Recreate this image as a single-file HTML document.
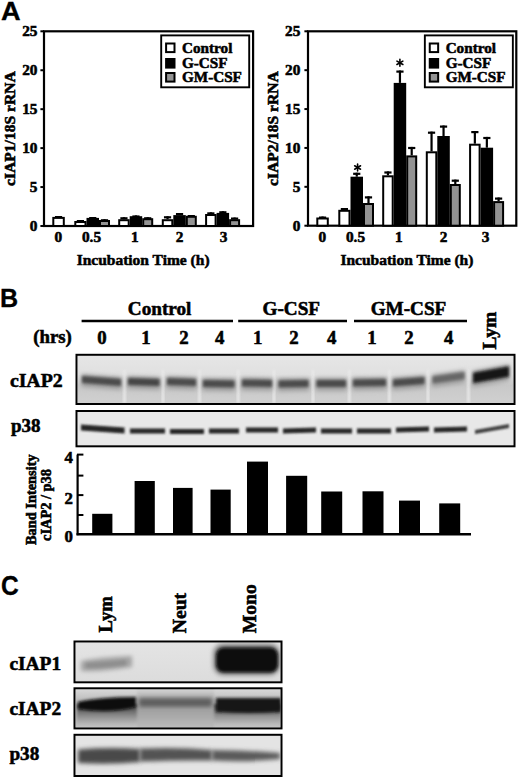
<!DOCTYPE html>
<html><head><meta charset="utf-8"><title>Figure</title>
<style>html,body{margin:0;padding:0;background:#fff;}svg{display:block;}</style></head>
<body><svg width="520" height="778" viewBox="0 0 520 778">
<defs>
<clipPath id="cB1"><rect x="77.5" y="355.8" width="436" height="47.2"/></clipPath>
<clipPath id="cB2"><rect x="77.5" y="412" width="436" height="33.3"/></clipPath>
<clipPath id="cC1"><rect x="75.5" y="642.5" width="205" height="38.8"/></clipPath>
<clipPath id="cC2"><rect x="75.5" y="689.3" width="205" height="38.1"/></clipPath>
<clipPath id="cC3"><rect x="75.5" y="735.8" width="205" height="39.2"/></clipPath>
<filter id="bl1" x="-20%" y="-100%" width="140%" height="300%"><feGaussianBlur stdDeviation="0.8"/></filter>
<filter id="bl15" x="-20%" y="-100%" width="140%" height="300%"><feGaussianBlur stdDeviation="1.1"/></filter>
<filter id="bl2" x="-20%" y="-100%" width="140%" height="300%"><feGaussianBlur stdDeviation="1.6"/></filter>
<filter id="bl3" x="-20%" y="-100%" width="140%" height="300%"><feGaussianBlur stdDeviation="2.2"/></filter>
<linearGradient id="gB1" x1="0" y1="0" x2="0" y2="1">
<stop offset="0" stop-color="#e6e6e6"/><stop offset="0.4" stop-color="#e0e0e0"/><stop offset="0.62" stop-color="#c8c8c8"/><stop offset="1" stop-color="#d0d0d0"/></linearGradient>
<linearGradient id="gC2" x1="0" y1="0" x2="0" y2="1">
<stop offset="0" stop-color="#d8d8d8"/><stop offset="0.3" stop-color="#bcbcbc"/><stop offset="0.7" stop-color="#acacac"/><stop offset="1" stop-color="#c4c4c4"/></linearGradient>
<linearGradient id="gHalo" x1="0" y1="0" x2="0" y2="1">
<stop offset="0" stop-color="#3a3a3a"/><stop offset="0.45" stop-color="#7a7a7a"/><stop offset="1" stop-color="#b0b0b0" stop-opacity="0.3"/></linearGradient>
<linearGradient id="gC1" x1="0" y1="0" x2="0" y2="1">
<stop offset="0" stop-color="#e4e4e4"/><stop offset="1" stop-color="#dcdcdc"/></linearGradient>
<linearGradient id="gC2n" x1="0" y1="0" x2="0" y2="1">
<stop offset="0" stop-color="#d2d2d2"/><stop offset="0.3" stop-color="#a8a8a8"/><stop offset="0.6" stop-color="#a4a4a4"/><stop offset="1" stop-color="#bababa"/></linearGradient>
</defs>
<rect width="520" height="778" fill="#fff"/>
<!-- chart1 -->
<rect x="44" y="31.3" width="209.1" height="194.7" fill="none" stroke="#000" stroke-width="2.2"/>
<line x1="40.4" y1="226.00" x2="44" y2="226.00" stroke="#000" stroke-width="2"/>
<text x="37.5" y="231.10" text-anchor="end" font-family="Liberation Serif" font-weight="bold" stroke="#000" stroke-width="0.55" font-size="15.3">0</text>
<line x1="40.4" y1="187.06" x2="44" y2="187.06" stroke="#000" stroke-width="2"/>
<text x="37.5" y="192.16" text-anchor="end" font-family="Liberation Serif" font-weight="bold" stroke="#000" stroke-width="0.55" font-size="15.3">5</text>
<line x1="40.4" y1="148.12" x2="44" y2="148.12" stroke="#000" stroke-width="2"/>
<text x="37.5" y="153.22" text-anchor="end" font-family="Liberation Serif" font-weight="bold" stroke="#000" stroke-width="0.55" font-size="15.3">10</text>
<line x1="40.4" y1="109.18" x2="44" y2="109.18" stroke="#000" stroke-width="2"/>
<text x="37.5" y="114.28" text-anchor="end" font-family="Liberation Serif" font-weight="bold" stroke="#000" stroke-width="0.55" font-size="15.3">15</text>
<line x1="40.4" y1="70.24" x2="44" y2="70.24" stroke="#000" stroke-width="2"/>
<text x="37.5" y="75.34" text-anchor="end" font-family="Liberation Serif" font-weight="bold" stroke="#000" stroke-width="0.55" font-size="15.3">20</text>
<line x1="40.4" y1="31.30" x2="44" y2="31.30" stroke="#000" stroke-width="2"/>
<text x="37.5" y="36.40" text-anchor="end" font-family="Liberation Serif" font-weight="bold" stroke="#000" stroke-width="0.55" font-size="15.3">25</text>
<line x1="58.55" y1="216.00" x2="58.55" y2="216.90" stroke="#000" stroke-width="2.2"/>
<line x1="54.95" y1="217.10" x2="62.15" y2="217.10" stroke="#000" stroke-width="2.2"/>
<rect x="53.30" y="217.90" width="10.50" height="8.10" fill="#fff" stroke="#000" stroke-width="2"/>
<line x1="80.40" y1="220.00" x2="80.40" y2="221.00" stroke="#000" stroke-width="2.2"/>
<line x1="76.80" y1="221.10" x2="84.00" y2="221.10" stroke="#000" stroke-width="2.2"/>
<rect x="75.30" y="222.00" width="10.20" height="4.00" fill="#fff" stroke="#000" stroke-width="2"/>
<line x1="92.75" y1="217.00" x2="92.75" y2="217.90" stroke="#000" stroke-width="2.2"/>
<line x1="89.15" y1="218.10" x2="96.35" y2="218.10" stroke="#000" stroke-width="2.2"/>
<rect x="87.50" y="218.90" width="10.50" height="7.10" fill="#000" stroke="#000" stroke-width="2"/>
<line x1="104.50" y1="219.20" x2="104.50" y2="220.00" stroke="#000" stroke-width="2.2"/>
<line x1="100.90" y1="220.30" x2="108.10" y2="220.30" stroke="#000" stroke-width="2.2"/>
<rect x="100.00" y="221.00" width="9.00" height="5.00" fill="#939393" stroke="#000" stroke-width="2"/>
<line x1="123.95" y1="217.20" x2="123.95" y2="219.20" stroke="#000" stroke-width="2.2"/>
<line x1="120.35" y1="218.30" x2="127.55" y2="218.30" stroke="#000" stroke-width="2.2"/>
<rect x="119.20" y="220.20" width="9.50" height="5.80" fill="#fff" stroke="#000" stroke-width="2"/>
<line x1="135.95" y1="215.40" x2="135.95" y2="216.20" stroke="#000" stroke-width="2.2"/>
<line x1="132.35" y1="216.50" x2="139.55" y2="216.50" stroke="#000" stroke-width="2.2"/>
<rect x="130.70" y="217.20" width="10.50" height="8.80" fill="#000" stroke="#000" stroke-width="2"/>
<line x1="147.70" y1="217.20" x2="147.70" y2="218.20" stroke="#000" stroke-width="2.2"/>
<line x1="144.10" y1="218.30" x2="151.30" y2="218.30" stroke="#000" stroke-width="2.2"/>
<rect x="143.20" y="219.20" width="9.00" height="6.80" fill="#939393" stroke="#000" stroke-width="2"/>
<line x1="167.55" y1="216.20" x2="167.55" y2="219.20" stroke="#000" stroke-width="2.2"/>
<line x1="163.95" y1="217.30" x2="171.15" y2="217.30" stroke="#000" stroke-width="2.2"/>
<rect x="162.80" y="220.20" width="9.50" height="5.80" fill="#fff" stroke="#000" stroke-width="2"/>
<line x1="179.55" y1="213.00" x2="179.55" y2="215.10" stroke="#000" stroke-width="2.2"/>
<line x1="175.95" y1="214.10" x2="183.15" y2="214.10" stroke="#000" stroke-width="2.2"/>
<rect x="174.30" y="216.10" width="10.50" height="9.90" fill="#000" stroke="#000" stroke-width="2"/>
<line x1="191.30" y1="215.00" x2="191.30" y2="215.80" stroke="#000" stroke-width="2.2"/>
<line x1="187.70" y1="216.10" x2="194.90" y2="216.10" stroke="#000" stroke-width="2.2"/>
<rect x="186.80" y="216.80" width="9.00" height="9.20" fill="#939393" stroke="#000" stroke-width="2"/>
<line x1="210.85" y1="212.30" x2="210.85" y2="214.00" stroke="#000" stroke-width="2.2"/>
<line x1="207.25" y1="213.40" x2="214.45" y2="213.40" stroke="#000" stroke-width="2.2"/>
<rect x="206.10" y="215.00" width="9.50" height="11.00" fill="#fff" stroke="#000" stroke-width="2"/>
<line x1="222.85" y1="211.20" x2="222.85" y2="212.90" stroke="#000" stroke-width="2.2"/>
<line x1="219.25" y1="212.30" x2="226.45" y2="212.30" stroke="#000" stroke-width="2.2"/>
<rect x="217.60" y="213.90" width="10.50" height="12.10" fill="#000" stroke="#000" stroke-width="2"/>
<line x1="234.60" y1="217.50" x2="234.60" y2="219.20" stroke="#000" stroke-width="2.2"/>
<line x1="231.00" y1="218.60" x2="238.20" y2="218.60" stroke="#000" stroke-width="2.2"/>
<rect x="230.10" y="220.20" width="9.00" height="5.80" fill="#939393" stroke="#000" stroke-width="2"/>
<text x="58.30" y="242" text-anchor="middle" font-family="Liberation Serif" font-weight="bold" stroke="#000" stroke-width="0.55" font-size="15.3">0</text>
<text x="91.50" y="242" text-anchor="middle" font-family="Liberation Serif" font-weight="bold" stroke="#000" stroke-width="0.55" font-size="15.3">0.5</text>
<text x="134.90" y="242" text-anchor="middle" font-family="Liberation Serif" font-weight="bold" stroke="#000" stroke-width="0.55" font-size="15.3">1</text>
<text x="179.50" y="242" text-anchor="middle" font-family="Liberation Serif" font-weight="bold" stroke="#000" stroke-width="0.55" font-size="15.3">2</text>
<text x="223.50" y="242" text-anchor="middle" font-family="Liberation Serif" font-weight="bold" stroke="#000" stroke-width="0.55" font-size="15.3">3</text>
<text x="143.1" y="264.5" text-anchor="middle" font-family="Liberation Serif" font-weight="bold" stroke="#000" stroke-width="0.55" font-size="15.5">Incubation Time (h)</text>
<text transform="translate(15.2,128.6) rotate(-90)" text-anchor="middle" font-family="Liberation Serif" font-weight="bold" stroke="#000" stroke-width="0.55" font-size="15.6">cIAP1/18S rRNA</text>
<rect x="161.2" y="35.4" width="88" height="51.9" fill="#fff" stroke="#000" stroke-width="1.9"/>
<rect x="166.10" y="43.50" width="8.4" height="8.6" fill="#fff" stroke="#000" stroke-width="2"/>
<text x="182.00" y="52.80" font-family="Liberation Serif" font-weight="bold" stroke="#000" stroke-width="0.55" font-size="15.2">Control</text>
<rect x="166.10" y="59.00" width="8.4" height="8.6" fill="#000" stroke="#000" stroke-width="2"/>
<text x="182.00" y="68.30" font-family="Liberation Serif" font-weight="bold" stroke="#000" stroke-width="0.55" font-size="15.2">G-CSF</text>
<rect x="166.10" y="73.00" width="8.4" height="8.6" fill="#939393" stroke="#000" stroke-width="2"/>
<text x="182.00" y="82.30" font-family="Liberation Serif" font-weight="bold" stroke="#000" stroke-width="0.55" font-size="15.2">GM-CSF</text>
<rect x="308" y="31.3" width="208.29999999999995" height="194.39999999999998" fill="none" stroke="#000" stroke-width="2.2"/>
<line x1="304.4" y1="225.70" x2="308" y2="225.70" stroke="#000" stroke-width="2"/>
<text x="300.3" y="230.80" text-anchor="end" font-family="Liberation Serif" font-weight="bold" stroke="#000" stroke-width="0.55" font-size="15.3">0</text>
<line x1="304.4" y1="186.82" x2="308" y2="186.82" stroke="#000" stroke-width="2"/>
<text x="300.3" y="191.92" text-anchor="end" font-family="Liberation Serif" font-weight="bold" stroke="#000" stroke-width="0.55" font-size="15.3">5</text>
<line x1="304.4" y1="147.94" x2="308" y2="147.94" stroke="#000" stroke-width="2"/>
<text x="300.3" y="153.04" text-anchor="end" font-family="Liberation Serif" font-weight="bold" stroke="#000" stroke-width="0.55" font-size="15.3">10</text>
<line x1="304.4" y1="109.06" x2="308" y2="109.06" stroke="#000" stroke-width="2"/>
<text x="300.3" y="114.16" text-anchor="end" font-family="Liberation Serif" font-weight="bold" stroke="#000" stroke-width="0.55" font-size="15.3">15</text>
<line x1="304.4" y1="70.18" x2="308" y2="70.18" stroke="#000" stroke-width="2"/>
<text x="300.3" y="75.28" text-anchor="end" font-family="Liberation Serif" font-weight="bold" stroke="#000" stroke-width="0.55" font-size="15.3">20</text>
<line x1="304.4" y1="31.30" x2="308" y2="31.30" stroke="#000" stroke-width="2"/>
<text x="300.3" y="36.40" text-anchor="end" font-family="Liberation Serif" font-weight="bold" stroke="#000" stroke-width="0.55" font-size="15.3">25</text>
<line x1="322.55" y1="216.50" x2="322.55" y2="217.50" stroke="#000" stroke-width="2.2"/>
<line x1="318.95" y1="217.60" x2="326.15" y2="217.60" stroke="#000" stroke-width="2.2"/>
<rect x="317.30" y="218.50" width="10.50" height="7.20" fill="#fff" stroke="#000" stroke-width="2"/>
<line x1="344.40" y1="208.00" x2="344.40" y2="209.80" stroke="#000" stroke-width="2.2"/>
<line x1="340.80" y1="209.10" x2="348.00" y2="209.10" stroke="#000" stroke-width="2.2"/>
<rect x="339.30" y="210.80" width="10.20" height="14.90" fill="#fff" stroke="#000" stroke-width="2"/>
<line x1="356.75" y1="172.70" x2="356.75" y2="176.70" stroke="#000" stroke-width="2.2"/>
<line x1="353.15" y1="173.80" x2="360.35" y2="173.80" stroke="#000" stroke-width="2.2"/>
<rect x="351.50" y="177.70" width="10.50" height="48.00" fill="#000" stroke="#000" stroke-width="2"/>
<line x1="368.50" y1="196.30" x2="368.50" y2="203.00" stroke="#000" stroke-width="2.2"/>
<line x1="364.90" y1="197.40" x2="372.10" y2="197.40" stroke="#000" stroke-width="2.2"/>
<rect x="364.00" y="204.00" width="9.00" height="21.70" fill="#939393" stroke="#000" stroke-width="2"/>
<line x1="387.95" y1="171.40" x2="387.95" y2="175.30" stroke="#000" stroke-width="2.2"/>
<line x1="384.35" y1="172.50" x2="391.55" y2="172.50" stroke="#000" stroke-width="2.2"/>
<rect x="383.20" y="176.30" width="9.50" height="49.40" fill="#fff" stroke="#000" stroke-width="2"/>
<line x1="399.95" y1="70.50" x2="399.95" y2="82.90" stroke="#000" stroke-width="2.2"/>
<line x1="396.35" y1="71.60" x2="403.55" y2="71.60" stroke="#000" stroke-width="2.2"/>
<rect x="394.70" y="83.90" width="10.50" height="141.80" fill="#000" stroke="#000" stroke-width="2"/>
<line x1="411.70" y1="146.90" x2="411.70" y2="155.40" stroke="#000" stroke-width="2.2"/>
<line x1="408.10" y1="148.00" x2="415.30" y2="148.00" stroke="#000" stroke-width="2.2"/>
<rect x="407.20" y="156.40" width="9.00" height="69.30" fill="#939393" stroke="#000" stroke-width="2"/>
<line x1="431.55" y1="131.60" x2="431.55" y2="151.30" stroke="#000" stroke-width="2.2"/>
<line x1="427.95" y1="132.70" x2="435.15" y2="132.70" stroke="#000" stroke-width="2.2"/>
<rect x="426.80" y="152.30" width="9.50" height="73.40" fill="#fff" stroke="#000" stroke-width="2"/>
<line x1="443.55" y1="125.50" x2="443.55" y2="136.00" stroke="#000" stroke-width="2.2"/>
<line x1="439.95" y1="126.60" x2="447.15" y2="126.60" stroke="#000" stroke-width="2.2"/>
<rect x="438.30" y="137.00" width="10.50" height="88.70" fill="#000" stroke="#000" stroke-width="2"/>
<line x1="455.30" y1="179.60" x2="455.30" y2="184.00" stroke="#000" stroke-width="2.2"/>
<line x1="451.70" y1="180.70" x2="458.90" y2="180.70" stroke="#000" stroke-width="2.2"/>
<rect x="450.80" y="185.00" width="9.00" height="40.70" fill="#939393" stroke="#000" stroke-width="2"/>
<line x1="474.85" y1="131.00" x2="474.85" y2="143.70" stroke="#000" stroke-width="2.2"/>
<line x1="471.25" y1="132.10" x2="478.45" y2="132.10" stroke="#000" stroke-width="2.2"/>
<rect x="470.10" y="144.70" width="9.50" height="81.00" fill="#fff" stroke="#000" stroke-width="2"/>
<line x1="486.85" y1="136.90" x2="486.85" y2="147.70" stroke="#000" stroke-width="2.2"/>
<line x1="483.25" y1="138.00" x2="490.45" y2="138.00" stroke="#000" stroke-width="2.2"/>
<rect x="481.60" y="148.70" width="10.50" height="77.00" fill="#000" stroke="#000" stroke-width="2"/>
<line x1="498.60" y1="197.50" x2="498.60" y2="201.10" stroke="#000" stroke-width="2.2"/>
<line x1="495.00" y1="198.60" x2="502.20" y2="198.60" stroke="#000" stroke-width="2.2"/>
<rect x="494.10" y="202.10" width="9.00" height="23.60" fill="#939393" stroke="#000" stroke-width="2"/>
<g stroke="#000" stroke-width="1.6" stroke-linecap="round"><line x1="357.6" y1="164.1" x2="357.6" y2="170.9"/><line x1="354.65000000000003" y1="165.8" x2="360.55" y2="169.2"/><line x1="354.65000000000003" y1="169.2" x2="360.55" y2="165.8"/></g>
<g stroke="#000" stroke-width="1.6" stroke-linecap="round"><line x1="399.9" y1="59.4" x2="399.9" y2="66.2"/><line x1="396.95" y1="61.099999999999994" x2="402.84999999999997" y2="64.5"/><line x1="396.95" y1="64.5" x2="402.84999999999997" y2="61.099999999999994"/></g>
<text x="322.30" y="242" text-anchor="middle" font-family="Liberation Serif" font-weight="bold" stroke="#000" stroke-width="0.55" font-size="15.3">0</text>
<text x="355.50" y="242" text-anchor="middle" font-family="Liberation Serif" font-weight="bold" stroke="#000" stroke-width="0.55" font-size="15.3">0.5</text>
<text x="398.90" y="242" text-anchor="middle" font-family="Liberation Serif" font-weight="bold" stroke="#000" stroke-width="0.55" font-size="15.3">1</text>
<text x="443.50" y="242" text-anchor="middle" font-family="Liberation Serif" font-weight="bold" stroke="#000" stroke-width="0.55" font-size="15.3">2</text>
<text x="485.70" y="242" text-anchor="middle" font-family="Liberation Serif" font-weight="bold" stroke="#000" stroke-width="0.55" font-size="15.3">3</text>
<text x="406.9" y="264.5" text-anchor="middle" font-family="Liberation Serif" font-weight="bold" stroke="#000" stroke-width="0.55" font-size="15.5">Incubation Time (h)</text>
<text transform="translate(278.2,128.6) rotate(-90)" text-anchor="middle" font-family="Liberation Serif" font-weight="bold" stroke="#000" stroke-width="0.55" font-size="15.6">cIAP2/18S rRNA</text>
<rect x="424.85" y="35.4" width="88" height="51.9" fill="#fff" stroke="#000" stroke-width="1.9"/>
<rect x="429.75" y="43.50" width="8.4" height="8.6" fill="#fff" stroke="#000" stroke-width="2"/>
<text x="445.65" y="52.80" font-family="Liberation Serif" font-weight="bold" stroke="#000" stroke-width="0.55" font-size="15.2">Control</text>
<rect x="429.75" y="59.00" width="8.4" height="8.6" fill="#000" stroke="#000" stroke-width="2"/>
<text x="445.65" y="68.30" font-family="Liberation Serif" font-weight="bold" stroke="#000" stroke-width="0.55" font-size="15.2">G-CSF</text>
<rect x="429.75" y="73.00" width="8.4" height="8.6" fill="#939393" stroke="#000" stroke-width="2"/>
<text x="445.65" y="82.30" font-family="Liberation Serif" font-weight="bold" stroke="#000" stroke-width="0.55" font-size="15.2">GM-CSF</text>
<text transform="translate(0.9,20.2) scale(1.07,1)" font-family="Liberation Sans" font-weight="bold" stroke="#000" stroke-width="0.3" font-size="25.4">A</text>
<text transform="translate(0.0,307.4) scale(0.98,1)" font-family="Liberation Sans" font-weight="bold" stroke="#000" stroke-width="0.3" font-size="25.6">B</text>
<text transform="translate(1.1,595.3) scale(0.91,1)" font-family="Liberation Sans" font-weight="bold" stroke="#000" stroke-width="0.3" font-size="27">C</text>
<text x="159.6" y="314.5" text-anchor="middle" font-family="Liberation Serif" font-weight="bold" stroke="#000" stroke-width="0.55" font-size="19.2">Control</text>
<text x="291.3" y="314.5" text-anchor="middle" font-family="Liberation Serif" font-weight="bold" stroke="#000" stroke-width="0.55" font-size="19.2">G-CSF</text>
<text x="408.5" y="314.5" text-anchor="middle" font-family="Liberation Serif" font-weight="bold" stroke="#000" stroke-width="0.55" font-size="19.2">GM-CSF</text>
<line x1="81.6" y1="321" x2="233" y2="321" stroke="#000" stroke-width="2.6"/>
<line x1="238.2" y1="321" x2="347" y2="321" stroke="#000" stroke-width="2.6"/>
<line x1="354" y1="321" x2="467" y2="321" stroke="#000" stroke-width="2.6"/>
<text x="33.2" y="342.5" font-family="Liberation Serif" font-weight="bold" stroke="#000" stroke-width="0.55" font-size="18.8">(hrs)</text>
<text x="102" y="344" text-anchor="middle" font-family="Liberation Serif" font-weight="bold" stroke="#000" stroke-width="0.55" font-size="18.8">0</text>
<text x="146" y="344" text-anchor="middle" font-family="Liberation Serif" font-weight="bold" stroke="#000" stroke-width="0.55" font-size="18.8">1</text>
<text x="184" y="344" text-anchor="middle" font-family="Liberation Serif" font-weight="bold" stroke="#000" stroke-width="0.55" font-size="18.8">2</text>
<text x="219.8" y="344" text-anchor="middle" font-family="Liberation Serif" font-weight="bold" stroke="#000" stroke-width="0.55" font-size="18.8">4</text>
<text x="257.75" y="344" text-anchor="middle" font-family="Liberation Serif" font-weight="bold" stroke="#000" stroke-width="0.55" font-size="18.8">1</text>
<text x="294" y="344" text-anchor="middle" font-family="Liberation Serif" font-weight="bold" stroke="#000" stroke-width="0.55" font-size="18.8">2</text>
<text x="331.8" y="344" text-anchor="middle" font-family="Liberation Serif" font-weight="bold" stroke="#000" stroke-width="0.55" font-size="18.8">4</text>
<text x="372" y="344" text-anchor="middle" font-family="Liberation Serif" font-weight="bold" stroke="#000" stroke-width="0.55" font-size="18.8">1</text>
<text x="408.9" y="344" text-anchor="middle" font-family="Liberation Serif" font-weight="bold" stroke="#000" stroke-width="0.55" font-size="18.8">2</text>
<text x="448.6" y="344" text-anchor="middle" font-family="Liberation Serif" font-weight="bold" stroke="#000" stroke-width="0.55" font-size="18.8">4</text>
<text transform="translate(495.6,330.6) rotate(-90)" text-anchor="middle" font-family="Liberation Serif" font-weight="bold" stroke="#000" stroke-width="0.55" font-size="19.5">Lym</text>
<text x="9.9" y="386.9" font-family="Liberation Serif" font-weight="bold" stroke="#000" stroke-width="0.55" font-size="19.8">cIAP2</text>
<text x="10.9" y="431.5" font-family="Liberation Serif" font-weight="bold" stroke="#000" stroke-width="0.55" font-size="19">p38</text>
<g clip-path="url(#cB1)">
<rect x="77.5" y="355.8" width="436" height="47.2" fill="url(#gB1)"/>
<rect x="123.2" y="370" width="2.6" height="33" fill="#e9e9e9" filter="url(#bl1)"/>
<rect x="161.7" y="370" width="2.6" height="33" fill="#e9e9e9" filter="url(#bl1)"/>
<rect x="198.2" y="370" width="2.6" height="33" fill="#e9e9e9" filter="url(#bl1)"/>
<rect x="236.89999999999998" y="370" width="2.6" height="33" fill="#e9e9e9" filter="url(#bl1)"/>
<rect x="272.7" y="370" width="2.6" height="33" fill="#e9e9e9" filter="url(#bl1)"/>
<rect x="311.7" y="370" width="2.6" height="33" fill="#e9e9e9" filter="url(#bl1)"/>
<rect x="348.0" y="370" width="2.6" height="33" fill="#e9e9e9" filter="url(#bl1)"/>
<rect x="388.0" y="370" width="2.6" height="33" fill="#e9e9e9" filter="url(#bl1)"/>
<rect x="426.7" y="370" width="2.6" height="33" fill="#e9e9e9" filter="url(#bl1)"/>
<rect x="467.2" y="370" width="2.6" height="33" fill="#e9e9e9" filter="url(#bl1)"/>
<path d="M81.5,374.0 L121.5,377.0 L121.5,390.0 L81.5,387.0 Z" fill="#a0a0a0" filter="url(#bl3)"/>
<path d="M82.0,376.0 L121.0,379.0 L121.0,386.0 L82.0,383.0 Z" fill="#4c4c4c" filter="url(#bl2)"/>
<path d="M127.5,376.0 L160,377.0 L160,390.0 L127.5,389.0 Z" fill="#a0a0a0" filter="url(#bl3)"/>
<path d="M128.0,378.0 L159.5,379.0 L159.5,386.0 L128.0,385.0 Z" fill="#444" filter="url(#bl2)"/>
<path d="M166.5,376.0 L196.5,377.0 L196.5,390.0 L166.5,389.0 Z" fill="#a0a0a0" filter="url(#bl3)"/>
<path d="M167.0,378.0 L196.0,379.0 L196.0,386.0 L167.0,385.0 Z" fill="#4c4c4c" filter="url(#bl2)"/>
<path d="M202.5,378.0 L235,378.5 L235,391.5 L202.5,391.0 Z" fill="#a0a0a0" filter="url(#bl3)"/>
<path d="M203.0,380.0 L234.5,380.5 L234.5,387.5 L203.0,387.0 Z" fill="#4c4c4c" filter="url(#bl2)"/>
<path d="M241.5,377.5 L272.5,378.0 L272.5,391.0 L241.5,390.5 Z" fill="#a0a0a0" filter="url(#bl3)"/>
<path d="M242.0,379.5 L272.0,380.0 L272.0,387.0 L242.0,386.5 Z" fill="#4c4c4c" filter="url(#bl2)"/>
<path d="M278,378.5 L309,378.0 L309,391.0 L278,391.5 Z" fill="#a0a0a0" filter="url(#bl3)"/>
<path d="M278.5,380.5 L308.5,380.0 L308.5,387.0 L278.5,387.5 Z" fill="#4c4c4c" filter="url(#bl2)"/>
<path d="M316,378.0 L346.5,378.0 L346.5,391.0 L316,391.0 Z" fill="#a0a0a0" filter="url(#bl3)"/>
<path d="M316.5,380.0 L346.0,380.0 L346.0,387.0 L316.5,387.0 Z" fill="#4c4c4c" filter="url(#bl2)"/>
<path d="M352.5,377.5 L386.5,377.0 L386.5,390.0 L352.5,390.5 Z" fill="#a0a0a0" filter="url(#bl3)"/>
<path d="M353.0,379.5 L386.0,379.0 L386.0,386.0 L353.0,386.5 Z" fill="#4c4c4c" filter="url(#bl2)"/>
<path d="M392.5,377.5 L425,375.0 L425,388.0 L392.5,390.5 Z" fill="#a0a0a0" filter="url(#bl3)"/>
<path d="M393.0,379.5 L424.5,377.0 L424.5,384.0 L393.0,386.5 Z" fill="#4c4c4c" filter="url(#bl2)"/>
<path d="M432,374.5 L465,370.0 L465,383.0 L432,387.5 Z" fill="#a0a0a0" filter="url(#bl3)"/>
<path d="M432.5,376.5 L464.5,372.0 L464.5,379.0 L432.5,383.5 Z" fill="#666" filter="url(#bl2)"/>
<path d="M472.5,370.75 L509.5,364.25 L509.5,380.75 L472.5,387.25 Z" fill="#a0a0a0" filter="url(#bl3)"/>
<path d="M473.0,372.75 L509.0,366.25 L509.0,376.75 L473.0,383.25 Z" fill="#141414" filter="url(#bl2)"/>
</g>
<rect x="76.5" y="354.8" width="438" height="49.2" fill="none" stroke="#000" stroke-width="2"/>
<g clip-path="url(#cB2)">
<rect x="77.5" y="412" width="436" height="33.3" fill="#e8e8e8"/>
<path d="M81,424.5 L124.5,427.5 L124.5,433.5 L81,430.5 Z" fill="#262626" filter="url(#bl15)"/>
<path d="M130,428.5 L165,428.5 L165,433.5 L130,433.5 Z" fill="#262626" filter="url(#bl15)"/>
<path d="M170,429.0 L204,429.0 L204,434.0 L170,434.0 Z" fill="#262626" filter="url(#bl15)"/>
<path d="M209,428.5 L239,428.5 L239,433.5 L209,433.5 Z" fill="#262626" filter="url(#bl15)"/>
<path d="M246,427.5 L278,427.5 L278,432.5 L246,432.5 Z" fill="#262626" filter="url(#bl15)"/>
<path d="M283,428.5 L316,427.5 L316,432.5 L283,433.5 Z" fill="#262626" filter="url(#bl15)"/>
<path d="M321,428.5 L352,428.5 L352,433.5 L321,433.5 Z" fill="#262626" filter="url(#bl15)"/>
<path d="M357,428.5 L391,428.5 L391,433.5 L357,433.5 Z" fill="#262626" filter="url(#bl15)"/>
<path d="M396,427.5 L429,426.5 L429,431.5 L396,432.5 Z" fill="#262626" filter="url(#bl15)"/>
<path d="M434,427.5 L467,426.5 L467,431.5 L434,432.5 Z" fill="#262626" filter="url(#bl15)"/>
<path d="M475,429.9 L509,423.9 L509,428.1 L475,434.1 Z" fill="#404040" filter="url(#bl15)"/>
</g>
<rect x="76.5" y="411" width="438" height="35.3" fill="none" stroke="#000" stroke-width="2"/>
<line x1="77.6" y1="454.6" x2="77.6" y2="535.2" stroke="#000" stroke-width="2.2"/>
<line x1="76.5" y1="534.2" x2="471" y2="534.2" stroke="#000" stroke-width="2.4"/>
<line x1="77" y1="454.6" x2="83.4" y2="454.6" stroke="#000" stroke-width="2"/>
<line x1="77" y1="475.6" x2="83.4" y2="475.6" stroke="#000" stroke-width="2"/>
<line x1="77" y1="495.1" x2="83.4" y2="495.1" stroke="#000" stroke-width="2"/>
<line x1="77" y1="515" x2="83.4" y2="515" stroke="#000" stroke-width="2"/>
<text x="72.8" y="462.9" text-anchor="end" font-family="Liberation Serif" font-weight="bold" stroke="#000" stroke-width="0.55" font-size="16.8">4</text>
<text x="72.8" y="504" text-anchor="end" font-family="Liberation Serif" font-weight="bold" stroke="#000" stroke-width="0.55" font-size="16.8">2</text>
<text x="72.8" y="541.8" text-anchor="end" font-family="Liberation Serif" font-weight="bold" stroke="#000" stroke-width="0.55" font-size="16.8">0</text>
<rect x="92.2" y="513.8" width="20.20" height="20.20" fill="#000"/>
<rect x="134.6" y="481" width="20.20" height="53.00" fill="#000"/>
<rect x="173" y="487.9" width="19.60" height="46.10" fill="#000"/>
<rect x="210.5" y="489.6" width="20.20" height="44.40" fill="#000"/>
<rect x="247" y="461.6" width="21.00" height="72.40" fill="#000"/>
<rect x="286.1" y="475.8" width="21.10" height="58.20" fill="#000"/>
<rect x="321.2" y="491.5" width="21.00" height="42.50" fill="#000"/>
<rect x="362.5" y="491.3" width="21.00" height="42.70" fill="#000"/>
<rect x="399" y="500.6" width="21.00" height="33.40" fill="#000"/>
<rect x="439.2" y="503.4" width="21.00" height="30.60" fill="#000"/>
<text transform="translate(36.3,499.7) rotate(-90)" text-anchor="middle" font-family="Liberation Serif" font-weight="bold" stroke="#000" stroke-width="0.55" font-size="14.4">Band Intensity</text>
<text transform="translate(51.3,505) rotate(-90)" text-anchor="middle" font-family="Liberation Serif" font-weight="bold" stroke="#000" stroke-width="0.55" font-size="14.4">cIAP2 / p38</text>
<text transform="translate(111.6,614.3) rotate(-90)" text-anchor="middle" font-family="Liberation Serif" font-weight="bold" stroke="#000" stroke-width="0.55" font-size="18.6">Lym</text>
<text transform="translate(186,613) rotate(-90)" text-anchor="middle" font-family="Liberation Serif" font-weight="bold" stroke="#000" stroke-width="0.55" font-size="19.6">Neut</text>
<text transform="translate(256,608.8) rotate(-90)" text-anchor="middle" font-family="Liberation Serif" font-weight="bold" stroke="#000" stroke-width="0.55" font-size="19.6">Mono</text>
<text x="9.4" y="670.3" font-family="Liberation Serif" font-weight="bold" stroke="#000" stroke-width="0.55" font-size="19.4">cIAP1</text>
<text x="9.4" y="715.4" font-family="Liberation Serif" font-weight="bold" stroke="#000" stroke-width="0.55" font-size="19.4">cIAP2</text>
<text x="9.4" y="759.9" font-family="Liberation Serif" font-weight="bold" stroke="#000" stroke-width="0.55" font-size="19.2">p38</text>
<g clip-path="url(#cC1)">
<rect x="75.5" y="642.5" width="205" height="38.8" fill="url(#gC1)"/>
<path d="M81,661 Q100,657 132,656 L132,667 Q105,672 81,671 Z" fill="#a2a2a2" filter="url(#bl3)"/>
<path d="M86,663 Q105,662 126,660 L126,665 Q105,668 86,668 Z" fill="#8e8e8e" filter="url(#bl2)"/>
<rect x="213" y="643.5" width="67" height="32" rx="10" fill="#8a8a8a" filter="url(#bl3)"/>
<rect x="216" y="647.5" width="62" height="25" rx="8" fill="#080808" filter="url(#bl2)"/>
</g>
<rect x="74.5" y="641.5" width="207" height="40.8" fill="none" stroke="#000" stroke-width="2"/>
<g clip-path="url(#cC2)">
<rect x="75.5" y="689.3" width="205" height="38.1" fill="url(#gC2)"/>
<rect x="137" y="689.3" width="77" height="38.1" fill="url(#gC2n)" filter="url(#bl1)"/>
<rect x="77" y="704" width="60" height="21" fill="url(#gHalo)" filter="url(#bl2)"/>
<path d="M78,702 Q100,697 136,697 L136,707 Q110,714 78,709 Z" fill="#0c0c0c" filter="url(#bl2)"/>
<path d="M139,698 L212,698 L212,707 L139,707 Z" fill="#5e5e5e" filter="url(#bl3)"/>
<rect x="214" y="704" width="67" height="20" fill="url(#gHalo)" filter="url(#bl2)"/>
<path d="M216,698 Q250,698 281,698 L281,712 Q250,714 216,712 Z" fill="#161616" filter="url(#bl2)"/>
</g>
<rect x="74.5" y="688.3" width="207" height="40.1" fill="none" stroke="#000" stroke-width="2"/>
<g clip-path="url(#cC3)">
<rect x="75.5" y="735.8" width="205" height="39.2" fill="#e4e4e4"/>
<path d="M78,749.5 Q110,747 140,749 L140,762 Q110,765 78,763 Z" fill="#4a4a4a" filter="url(#bl3)"/>
<path d="M140,748.5 Q180,747 212,750 L212,760.5 Q180,760 140,761.5 Z" fill="#535353" filter="url(#bl3)"/>
<path d="M212,750 Q245,750 280,753 L280,759 Q245,762.5 212,760.5 Z" fill="#5a5a5a" filter="url(#bl3)"/>
</g>
<rect x="74.5" y="734.8" width="207" height="41.2" fill="none" stroke="#000" stroke-width="2"/>
</svg></body></html>
